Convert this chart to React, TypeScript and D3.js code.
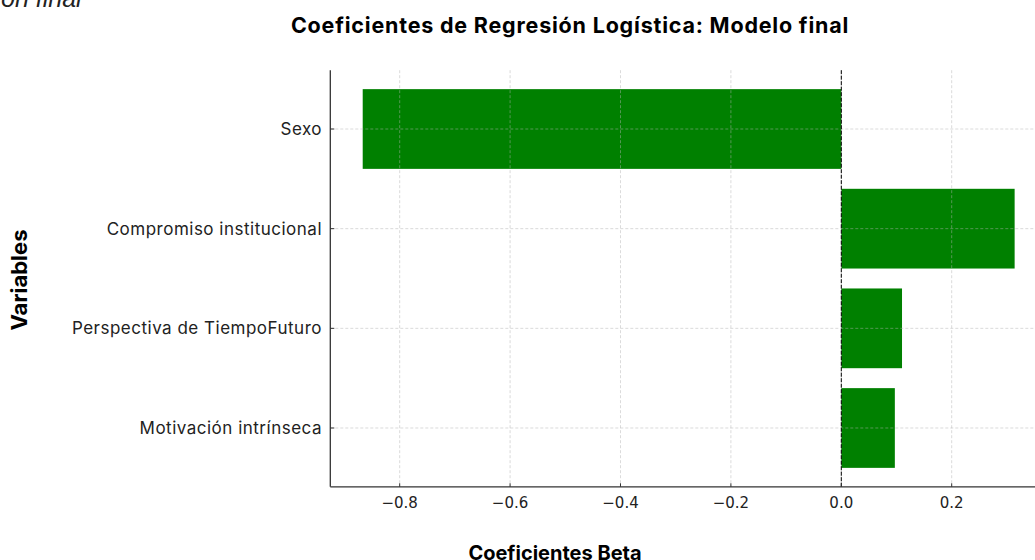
import React from "react";
import * as d3 from "d3";

const categories = ["Sexo", "Compromiso institucional", "Perspectiva de TiempoFuturo", "Motivación intrínseca"];
const coefficients = [-0.867, 0.314, 0.110, 0.097];
const xTicks = [-0.8, -0.6, -0.4, -0.2, 0.0, 0.2];

const W = 1035;
const H = 560;

export default function App() {
  const x = d3.scaleLinear().domain([-0.9257, 0.373]).range([330.3, 1047.2]);
  const y = d3
    .scaleBand<string>()
    .domain(categories)
    .range([70.2, 486.8])
    .paddingInner(0.2)
    .paddingOuter(0.19);
  const top = 70.2;
  const bottom = 486.8;
  const left = 330.3;
  const fmt = (v: number) => (v < 0 ? "\u2212" : "") + Math.abs(v).toFixed(1);
  const labelFont = "Inter, 'Noto Sans', sans-serif";

  return (
    <svg
      width={W}
      height={H}
      style={{ position: "absolute", left: 0, top: 0, background: "#fff" }}
      fontFamily={labelFont}
    >
      <rect x={0} y={0} width={W} height={H} fill="#fff" />
      <text x={1} y={7} fontSize={25} fontStyle="italic" fill="#222" fontFamily="'Liberation Sans', sans-serif">
        ón final
      </text>
      <text x={570} y={33} textAnchor="middle" fontSize={21.5} fontWeight="bold" fill="#000" letterSpacing={0.8}>
        Coeficientes de Regresión Logística: Modelo final
      </text>

      {/* bars */}
      {categories.map((c, i) => {
        const v = coefficients[i];
        return (
          <rect
            key={c}
            x={x(Math.min(0, v))}
            y={y(c)!}
            width={Math.abs(x(v) - x(0))}
            height={y.bandwidth()}
            fill="#008000"
          />
        );
      })}

      {/* grid */}
      {xTicks.map((t) => (
        <line
          key={"gx" + t}
          x1={x(t)}
          x2={x(t)}
          y1={top}
          y2={bottom}
          stroke="#b0b0b0"
          strokeOpacity={0.6}
          strokeWidth={0.8}
          strokeDasharray="3,2"
        />
      ))}
      {categories.map((c) => {
        const cy = y(c)! + y.bandwidth() / 2;
        return (
          <line
            key={"gy" + c}
            x1={left}
            x2={W + 20}
            y1={cy}
            y2={cy}
            stroke="#b0b0b0"
            strokeOpacity={0.6}
            strokeWidth={0.8}
            strokeDasharray="3,2"
          />
        );
      })}

      {/* zero line */}
      <line x1={x(0)} x2={x(0)} y1={top} y2={bottom} stroke="#000" strokeWidth={1} strokeDasharray="4,1.5" />

      {/* spines */}
      <line x1={left} x2={left} y1={top} y2={bottom} stroke="#333" strokeWidth={1.3} />
      <line x1={left} x2={W + 20} y1={bottom} y2={bottom} stroke="#333" strokeWidth={1.3} />

      {/* x ticks */}
      {xTicks.map((t) => (
        <g key={"xt" + t}>
          <line x1={x(t)} x2={x(t)} y1={bottom} y2={bottom - 3.5} stroke="#333" strokeWidth={1} />
          <text
            x={x(t)}
            y={508}
            textAnchor="middle"
            fontSize={15}
            fill="#222"
            fontFamily="'DejaVu Sans', sans-serif"
          >
            {fmt(t)}
          </text>
        </g>
      ))}

      {/* y ticks */}
      {categories.map((c) => {
        const cy = y(c)! + y.bandwidth() / 2;
        return (
          <g key={"yt" + c}>
            <line x1={left} x2={left + 4} y1={cy} y2={cy} stroke="#333" strokeWidth={1} />
            <text x={322} y={cy} dy="0.35em" textAnchor="end" fontSize={17} letterSpacing={0.5} fill="#222">
              {c}
            </text>
          </g>
        );
      })}

      {/* axis labels */}
      <text
        transform="translate(27,280) rotate(-90)"
        textAnchor="middle"
        fontSize={22}
        fontWeight="bold"
        fill="#000"
      >
        Variables
      </text>
      <text x={555} y={560} textAnchor="middle" fontSize={20} fontWeight="bold" fill="#000">
        Coeficientes Beta
      </text>
    </svg>
  );
}
